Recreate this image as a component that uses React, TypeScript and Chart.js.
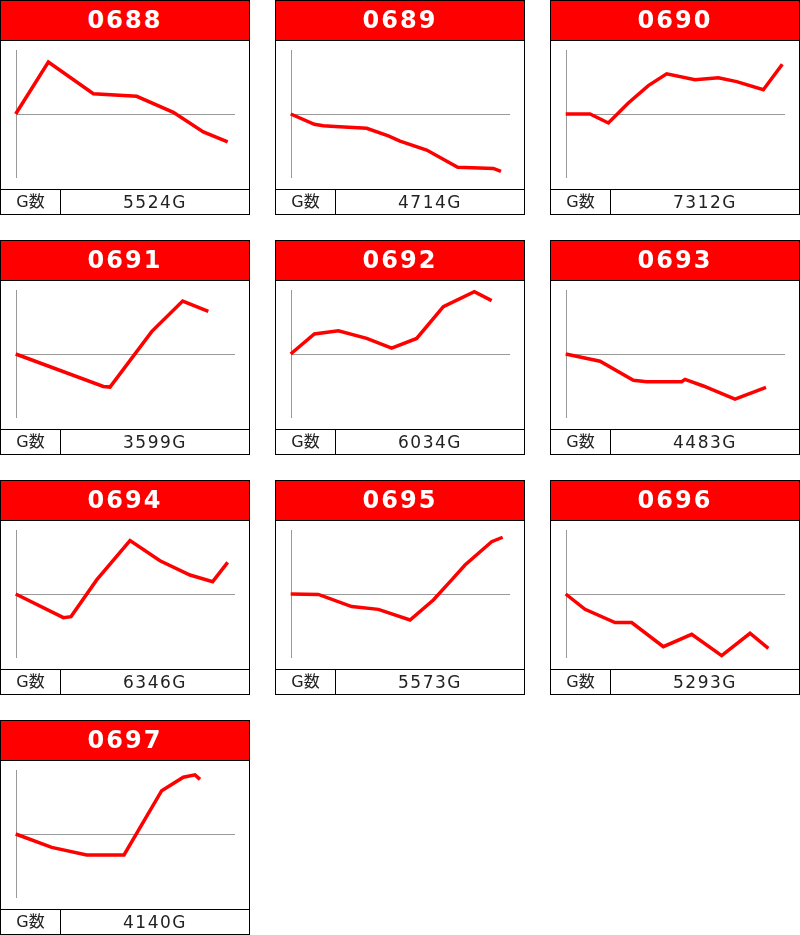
import React, { useEffect, useRef } from 'react';
import Chart from 'chart.js/auto';

// x: minutes since open, y: coin difference
const machines = ['0688', '0689', '0690', '0691', '0692', '0693', '0694', '0695', '0696', '0697'];
const games = [5524, 4714, 7312, 3599, 6034, 4483, 6346, 5573, 5293, 4140];

const times0688 = [0, 98, 233, 363, 473, 563, 636];
const diff0688 = [0, 2440, 950, 830, 80, -840, -1310];
const times0689 = [0, 71, 98, 133, 228, 293, 328, 408, 501, 608, 631];
const diff0689 = [0, -480, -550, -590, -670, -1030, -1270, -1690, -2500, -2550, -2690];
const times0690 = [0, 73, 128, 188, 248, 303, 388, 458, 513, 593, 650];
const diff0690 = [0, 0, -420, 520, 1330, 1880, 1610, 1700, 1520, 1140, 2330];
const times0691 = [0, 263, 283, 408, 501, 578];
const diff0691 = [0, -1520, -1550, 1050, 2480, 2000];
const times0692 = [0, 71, 143, 228, 303, 378, 458, 551, 603];
const diff0692 = [0, 940, 1090, 730, 270, 730, 2220, 2920, 2500];
const times0693 = [0, 103, 203, 243, 348, 358, 413, 508, 601];
const diff0693 = [0, -340, -1230, -1300, -1300, -1190, -1500, -2110, -1560];
const times0694 = [0, 143, 166, 243, 343, 433, 523, 591, 636];
const diff0694 = [0, -1110, -1060, 660, 2500, 1560, 890, 580, 1480];
const times0695 = [0, 83, 183, 263, 358, 428, 483, 523, 603, 636];
const diff0695 = [0, -20, -590, -720, -1220, -280, 660, 1360, 2450, 2660];
const times0696 = [0, 58, 148, 198, 293, 378, 468, 553, 608];
const diff0696 = [0, -720, -1340, -1340, -2470, -1890, -2890, -1840, -2550];
const times0697 = [0, 108, 213, 325, 438, 503, 538, 553];
const diff0697 = [0, -630, -980, -980, 2030, 2660, 2770, 2560];

const series: [number[], number[]][] = [
    [times0688, diff0688],
    [times0689, diff0689],
    [times0690, diff0690],
    [times0691, diff0691],
    [times0692, diff0692],
    [times0693, diff0693],
    [times0694, diff0694],
    [times0695, diff0695],
    [times0696, diff0696],
    [times0697, diff0697],
];

const X_MAX = 658;
const Y_LIMIT = 3000;

// axis line on the left and zero line, drawn from the scales
const axesPlugin = {
    id: 'slumpAxes',
    beforeDatasetsDraw(chart: any) {
        const { ctx, chartArea, scales } = chart;
        const zeroY = Math.round(scales.y.getPixelForValue(0)) + 0.5;
        const left = Math.round(chartArea.left) + 0.5;
        ctx.save();
        ctx.strokeStyle = '#999999';
        ctx.lineWidth = 1;
        ctx.beginPath();
        ctx.moveTo(left, chartArea.top);
        ctx.lineTo(left, chartArea.bottom);
        ctx.moveTo(left, zeroY);
        ctx.lineTo(chartArea.right, zeroY);
        ctx.stroke();
        ctx.restore();
    },
};

const SlumpChart: React.FC<{ times: number[]; diffs: number[] }> = ({ times, diffs }) => {
    const canvasRef = useRef<HTMLCanvasElement | null>(null);

    useEffect(() => {
        if (!canvasRef.current) return;
        const chart = new Chart(canvasRef.current, {
            type: 'line',
            data: {
                datasets: [{
                    data: times.map((t, i) => ({ x: t, y: diffs[i] })),
                    borderColor: '#ff0000',
                    borderWidth: 3.5,
                    pointRadius: 0,
                    tension: 0,
                    fill: false,
                    clip: false,
                }],
            },
            options: {
                responsive: false,
                animation: false,
                devicePixelRatio: 1,
                layout: { padding: { left: 14.7, right: 14, top: 9, bottom: 11 } },
                plugins: { legend: { display: false }, tooltip: { enabled: false } },
                scales: {
                    x: { type: 'linear', min: 0, max: X_MAX, display: false },
                    y: { min: -Y_LIMIT, max: Y_LIMIT, display: false },
                },
            },
            plugins: [axesPlugin],
        });
        return () => chart.destroy();
    }, [times, diffs]);

    return <canvas ref={canvasRef} width={248} height={148} style={{ display: 'block' }} />;
};

const App: React.FC = () => {
    useEffect(() => {
        document.body.style.margin = '0';
    }, []);

    return (
        <div style={{
            display: 'grid',
            gridTemplateColumns: 'repeat(3, 250px)',
            gridAutoRows: '215px',
            columnGap: 25,
            rowGap: 25,
            width: 800,
            fontFamily: '"DejaVu Sans", "Noto Sans CJK JP", sans-serif',
        }}>
            {machines.map((no, i) => (
                <div key={no} style={{ width: 250, height: 215, boxSizing: 'border-box', border: '1px solid #000', background: '#fff' }}>
                    <div style={{
                        height: 40, boxSizing: 'border-box', borderBottom: '1px solid #000',
                        background: '#ff0000', color: '#fff', fontWeight: 'bold', fontSize: 24,
                        letterSpacing: 2, lineHeight: '39px', textAlign: 'center',
                    }}>{no}</div>
                    <div style={{ height: 148 }}>
                        <SlumpChart times={series[i][0]} diffs={series[i][1]} />
                    </div>
                    <div style={{ display: 'flex', height: 25, boxSizing: 'border-box', borderTop: '1px solid #000', color: '#222' }}>
                        <div style={{ width: 60, boxSizing: 'border-box', borderRight: '1px solid #000', textAlign: 'center', fontSize: 16, lineHeight: '24px' }}>G数</div>
                        <div style={{ flex: 1, textAlign: 'center', fontSize: 17, letterSpacing: 1.5, lineHeight: '24px' }}>{games[i]}G</div>
                    </div>
                </div>
            ))}
        </div>
    );
};

export default App;
